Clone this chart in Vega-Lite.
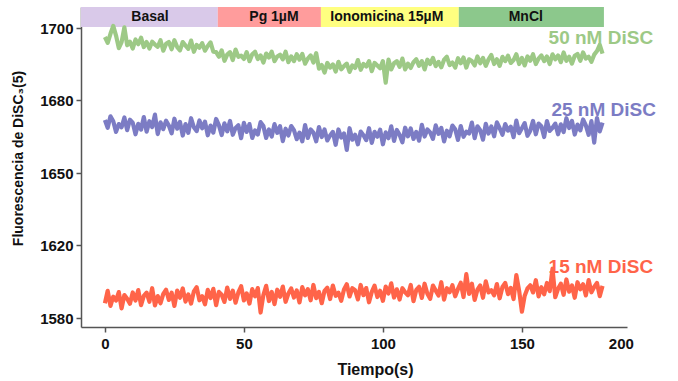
{
  "$schema": "https://vega.github.io/schema/vega-lite/v6.json",
  "width": 546,
  "height": 320,
  "autosize": {"type": "none"},
  "padding": {"left": 81, "top": 7, "right": 51, "bottom": 54},
  "background": "white",
  "config": {"view": {"stroke": null}, "font": "Liberation Sans"},
  "datasets": {
    "fases": [
      {"fase": "Basal", "inicio": -8.6, "fin": 40.6, "centro": 16.2},
      {"fase": "Pg 1µM", "inicio": 40.6, "fin": 77.7, "centro": 60.8},
      {"fase": "Ionomicina 15µM", "inicio": 77.7, "fin": 127.3, "centro": 101.4},
      {"fase": "MnCl", "inicio": 127.3, "fin": 179.5, "centro": 151.4}
    ],
    "etiquetas": [
      {"serie": "d50", "nombre": "50 nM DiSC", "t": 159.6, "v": 1697.2},
      {"serie": "d25", "nombre": "25 nM DiSC", "t": 160.6, "v": 1675.9},
      {"serie": "d15", "nombre": "15 nM DiSC", "t": 159.6, "v": 1607.9}
    ],
    "trazas": [
      {"t":0,"d50":1697.5,"d25":1671.8,"d15":1588.1},
      {"t":1,"d50":1695.9,"d25":1668.6,"d15":1594.9},
      {"t":2,"d50":1698.4,"d25":1673.3,"d15":1586.6},
      {"t":3,"d50":1700.6,"d25":1671.3,"d15":1591.7},
      {"t":4,"d50":1697.9,"d25":1666.9,"d15":1589.6},
      {"t":5,"d50":1694.4,"d25":1670.1,"d15":1594.2},
      {"t":6,"d50":1696.1,"d25":1668.8,"d15":1585.3},
      {"t":7,"d50":1700.2,"d25":1672.8,"d15":1592.6},
      {"t":8,"d50":1695.2,"d25":1667.6,"d15":1590.5},
      {"t":9,"d50":1696.2,"d25":1671.9,"d15":1587.8},
      {"t":10,"d50":1694.3,"d25":1670.7,"d15":1594.0},
      {"t":11,"d50":1696.8,"d25":1665.9,"d15":1589.6},
      {"t":12,"d50":1695.5,"d25":1670.2,"d15":1595.3},
      {"t":13,"d50":1697.3,"d25":1667.8,"d15":1587.0},
      {"t":14,"d50":1694.7,"d25":1673.0,"d15":1592.1},
      {"t":15,"d50":1696.1,"d25":1667.0,"d15":1593.9},
      {"t":16,"d50":1694.3,"d25":1671.3,"d15":1588.9},
      {"t":17,"d50":1696.2,"d25":1668.9,"d15":1596.3},
      {"t":18,"d50":1695.4,"d25":1674.0,"d15":1586.9},
      {"t":19,"d50":1694.8,"d25":1666.0,"d15":1592.0},
      {"t":20,"d50":1696.6,"d25":1670.8,"d15":1588.1},
      {"t":21,"d50":1693.7,"d25":1668.0,"d15":1593.2},
      {"t":22,"d50":1695.6,"d25":1671.5,"d15":1595.5},
      {"t":23,"d50":1696.1,"d25":1669.5,"d15":1589.9},
      {"t":24,"d50":1694.1,"d25":1666.3,"d15":1593.9},
      {"t":25,"d50":1696.6,"d25":1672.3,"d15":1586.6},
      {"t":26,"d50":1694.7,"d25":1668.2,"d15":1595.0},
      {"t":27,"d50":1693.8,"d25":1671.0,"d15":1591.1},
      {"t":28,"d50":1696.1,"d25":1665.4,"d15":1596.2},
      {"t":29,"d50":1695.1,"d25":1670.1,"d15":1589.0},
      {"t":30,"d50":1694.2,"d25":1666.5,"d15":1592.9},
      {"t":31,"d50":1696.5,"d25":1672.5,"d15":1587.9},
      {"t":32,"d50":1693.4,"d25":1668.8,"d15":1594.6},
      {"t":33,"d50":1695.3,"d25":1667.2,"d15":1596.9},
      {"t":34,"d50":1694.5,"d25":1671.6,"d15":1589.7},
      {"t":35,"d50":1695.8,"d25":1668.4,"d15":1591.9},
      {"t":36,"d50":1693.7,"d25":1671.1,"d15":1587.5},
      {"t":37,"d50":1695.0,"d25":1665.5,"d15":1595.4},
      {"t":38,"d50":1696.0,"d25":1669.5,"d15":1590.9},
      {"t":39,"d50":1693.4,"d25":1666.6,"d15":1596.0},
      {"t":40,"d50":1693.3,"d25":1672.2,"d15":1587.0},
      {"t":41,"d50":1692.0,"d25":1669.7,"d15":1594.3},
      {"t":42,"d50":1693.8,"d25":1665.6,"d15":1592.7},
      {"t":43,"d50":1690.9,"d25":1670.4,"d15":1588.8},
      {"t":44,"d50":1692.6,"d25":1667.1,"d15":1596.7},
      {"t":45,"d50":1693.3,"d25":1671.4,"d15":1590.5},
      {"t":46,"d50":1691.1,"d25":1665.7,"d15":1595.0},
      {"t":47,"d50":1694.0,"d25":1668.5,"d15":1588.4},
      {"t":48,"d50":1692.0,"d25":1669.6,"d15":1594.0},
      {"t":49,"d50":1692.3,"d25":1664.3,"d15":1597.4},
      {"t":50,"d50":1691.4,"d25":1670.6,"d15":1589.6},
      {"t":51,"d50":1693.3,"d25":1666.9,"d15":1593.5},
      {"t":52,"d50":1690.8,"d25":1670.1,"d15":1587.9},
      {"t":53,"d50":1692.7,"d25":1664.4,"d15":1595.8},
      {"t":54,"d50":1693.4,"d25":1667.5,"d15":1591.9},
      {"t":55,"d50":1691.4,"d25":1665.8,"d15":1596.4},
      {"t":56,"d50":1692.4,"d25":1670.9,"d15":1583.0},
      {"t":57,"d50":1690.4,"d25":1669.3,"d15":1592.6},
      {"t":58,"d50":1692.9,"d25":1664.4,"d15":1597.6},
      {"t":59,"d50":1691.8,"d25":1667.9,"d15":1589.3},
      {"t":60,"d50":1693.4,"d25":1665.0,"d15":1594.3},
      {"t":61,"d50":1690.8,"d25":1670.1,"d15":1587.6},
      {"t":62,"d50":1692.1,"d25":1666.5,"d15":1595.5},
      {"t":63,"d50":1692.6,"d25":1669.2,"d15":1591.6},
      {"t":64,"d50":1691.3,"d25":1663.1,"d15":1597.2},
      {"t":65,"d50":1693.4,"d25":1668.2,"d15":1588.9},
      {"t":66,"d50":1690.5,"d25":1665.4,"d15":1593.4},
      {"t":67,"d50":1692.1,"d25":1669.3,"d15":1596.2},
      {"t":68,"d50":1690.8,"d25":1667.6,"d15":1591.2},
      {"t":69,"d50":1692.7,"d25":1663.9,"d15":1595.1},
      {"t":70,"d50":1691.2,"d25":1666.6,"d15":1588.5},
      {"t":71,"d50":1692.8,"d25":1663.0,"d15":1596.9},
      {"t":72,"d50":1690.1,"d25":1669.7,"d15":1592.4},
      {"t":73,"d50":1691.5,"d25":1664.4,"d15":1595.8},
      {"t":74,"d50":1692.4,"d25":1667.9,"d15":1589.7},
      {"t":75,"d50":1690.4,"d25":1666.6,"d15":1598.1},
      {"t":76,"d50":1693.0,"d25":1663.0,"d15":1590.9},
      {"t":77,"d50":1688.7,"d25":1668.9,"d15":1594.3},
      {"t":78,"d50":1689.7,"d25":1664.8,"d15":1588.1},
      {"t":79,"d50":1687.6,"d25":1667.9,"d15":1594.9},
      {"t":80,"d50":1690.3,"d25":1663.4,"d15":1596.6},
      {"t":81,"d50":1689.0,"d25":1665.4,"d15":1590.4},
      {"t":82,"d50":1689.9,"d25":1666.9,"d15":1597.8},
      {"t":83,"d50":1687.9,"d25":1661.6,"d15":1592.2},
      {"t":84,"d50":1690.6,"d25":1667.9,"d15":1593.9},
      {"t":85,"d50":1688.5,"d25":1664.6,"d15":1589.4},
      {"t":86,"d50":1689.4,"d25":1666.2,"d15":1595.6},
      {"t":87,"d50":1690.1,"d25":1659.5,"d15":1598.5},
      {"t":88,"d50":1687.8,"d25":1668.4,"d15":1591.8},
      {"t":89,"d50":1689.6,"d25":1663.7,"d15":1596.3},
      {"t":90,"d50":1688.9,"d25":1665.7,"d15":1595.2},
      {"t":91,"d50":1691.1,"d25":1661.8,"d15":1590.2},
      {"t":92,"d50":1688.4,"d25":1667.0,"d15":1598.1},
      {"t":93,"d50":1690.0,"d25":1665.5,"d15":1592.5},
      {"t":94,"d50":1689.3,"d25":1663.5,"d15":1596.4},
      {"t":95,"d50":1690.8,"d25":1668.4,"d15":1588.6},
      {"t":96,"d50":1688.0,"d25":1662.4,"d15":1594.3},
      {"t":97,"d50":1690.3,"d25":1666.9,"d15":1597.7},
      {"t":98,"d50":1689.6,"d25":1664.9,"d15":1591.5},
      {"t":99,"d50":1688.8,"d25":1667.8,"d15":1594.9},
      {"t":100,"d50":1690.8,"d25":1661.8,"d15":1589.4},
      {"t":101,"d50":1684.8,"d25":1666.7,"d15":1597.2},
      {"t":102,"d50":1691.2,"d25":1664.3,"d15":1593.4},
      {"t":103,"d50":1688.5,"d25":1669.2,"d15":1599.0},
      {"t":104,"d50":1690.2,"d25":1663.2,"d15":1591.2},
      {"t":105,"d50":1690.8,"d25":1667.7,"d15":1595.7},
      {"t":106,"d50":1689.2,"d25":1665.7,"d15":1590.1},
      {"t":107,"d50":1691.5,"d25":1662.6,"d15":1596.3},
      {"t":108,"d50":1688.5,"d25":1668.6,"d15":1594.1},
      {"t":109,"d50":1690.1,"d25":1665.1,"d15":1592.5},
      {"t":110,"d50":1688.9,"d25":1668.3,"d15":1598.1},
      {"t":111,"d50":1690.5,"d25":1664.0,"d15":1589.2},
      {"t":112,"d50":1691.3,"d25":1666.9,"d15":1595.4},
      {"t":113,"d50":1689.5,"d25":1663.3,"d15":1597.1},
      {"t":114,"d50":1690.8,"d25":1669.8,"d15":1591.0},
      {"t":115,"d50":1688.5,"d25":1665.0,"d15":1598.8},
      {"t":116,"d50":1691.2,"d25":1667.9,"d15":1593.3},
      {"t":117,"d50":1690.0,"d25":1666.7,"d15":1590.5},
      {"t":118,"d50":1691.7,"d25":1664.0,"d15":1597.8},
      {"t":119,"d50":1689.4,"d25":1669.6,"d15":1595.0},
      {"t":120,"d50":1690.6,"d25":1666.1,"d15":1592.3},
      {"t":121,"d50":1689.1,"d25":1668.5,"d15":1599.6},
      {"t":122,"d50":1691.2,"d25":1663.0,"d15":1590.1},
      {"t":123,"d50":1692.0,"d25":1667.4,"d15":1596.3},
      {"t":124,"d50":1689.7,"d25":1665.1,"d15":1594.1},
      {"t":125,"d50":1690.4,"d25":1669.5,"d15":1598.0},
      {"t":126,"d50":1689.0,"d25":1668.0,"d15":1591.9},
      {"t":127,"d50":1691.6,"d25":1663.6,"d15":1595.9},
      {"t":128,"d50":1690.2,"d25":1669.3,"d15":1599.3},
      {"t":129,"d50":1691.8,"d25":1664.9,"d15":1591.5},
      {"t":130,"d50":1689.0,"d25":1667.0,"d15":1604.0},
      {"t":131,"d50":1691.3,"d25":1666.2,"d15":1593.2},
      {"t":132,"d50":1690.8,"d25":1670.7,"d15":1598.8},
      {"t":133,"d50":1689.6,"d25":1664.3,"d15":1589.9},
      {"t":134,"d50":1692.1,"d25":1669.2,"d15":1595.5},
      {"t":135,"d50":1690.2,"d25":1667.6,"d15":1597.8},
      {"t":136,"d50":1691.7,"d25":1663.7,"d15":1591.1},
      {"t":137,"d50":1689.5,"d25":1670.2,"d15":1600.1},
      {"t":138,"d50":1691.3,"d25":1666.2,"d15":1594.0},
      {"t":139,"d50":1692.5,"d25":1669.1,"d15":1595.2},
      {"t":140,"d50":1690.0,"d25":1665.1,"d15":1592.4},
      {"t":141,"d50":1691.3,"d25":1670.8,"d15":1598.6},
      {"t":142,"d50":1689.5,"d25":1668.4,"d15":1590.8},
      {"t":143,"d50":1692.0,"d25":1665.7,"d15":1597.0},
      {"t":144,"d50":1690.8,"d25":1670.1,"d15":1599.2},
      {"t":145,"d50":1692.3,"d25":1667.4,"d15":1593.1},
      {"t":146,"d50":1690.3,"d25":1669.0,"d15":1596.5},
      {"t":147,"d50":1691.1,"d25":1664.7,"d15":1590.4},
      {"t":148,"d50":1692.7,"d25":1671.5,"d15":1603.5},
      {"t":149,"d50":1690.0,"d25":1666.4,"d15":1594.9},
      {"t":150,"d50":1691.7,"d25":1668.4,"d15":1583.5},
      {"t":151,"d50":1689.6,"d25":1670.5,"d15":1592.2},
      {"t":152,"d50":1692.1,"d25":1665.3,"d15":1596.2},
      {"t":153,"d50":1690.9,"d25":1667.4,"d15":1597.9},
      {"t":154,"d50":1692.7,"d25":1671.4,"d15":1594.0},
      {"t":155,"d50":1690.0,"d25":1665.9,"d15":1600.7},
      {"t":156,"d50":1691.5,"d25":1670.3,"d15":1591.8},
      {"t":157,"d50":1692.4,"d25":1669.2,"d15":1596.9},
      {"t":158,"d50":1690.8,"d25":1664.8,"d15":1593.0},
      {"t":159,"d50":1692.1,"d25":1671.3,"d15":1599.2},
      {"t":160,"d50":1690.0,"d25":1667.3,"d15":1594.7},
      {"t":161,"d50":1692.7,"d25":1668.6,"d15":1607.0},
      {"t":162,"d50":1691.3,"d25":1670.3,"d15":1591.4},
      {"t":163,"d50":1692.4,"d25":1665.9,"d15":1596.0},
      {"t":164,"d50":1690.5,"d25":1670.0,"d15":1598.8},
      {"t":165,"d50":1693.2,"d25":1666.8,"d15":1592.7},
      {"t":166,"d50":1690.9,"d25":1672.5,"d15":1601.1},
      {"t":167,"d50":1692.0,"d25":1668.5,"d15":1594.4},
      {"t":168,"d50":1690.1,"d25":1671.4,"d15":1597.8},
      {"t":169,"d50":1692.3,"d25":1665.8,"d15":1591.1},
      {"t":170,"d50":1692.8,"d25":1669.9,"d15":1599.6},
      {"t":171,"d50":1690.9,"d25":1667.5,"d15":1595.7},
      {"t":172,"d50":1693.2,"d25":1672.0,"d15":1598.5},
      {"t":173,"d50":1691.5,"d25":1669.6,"d15":1592.4},
      {"t":174,"d50":1692.0,"d25":1665.7,"d15":1600.8},
      {"t":175,"d50":1690.6,"d25":1671.3,"d15":1594.1},
      {"t":176,"d50":1692.6,"d25":1662.5,"d15":1597.0},
      {"t":177,"d50":1693.6,"d25":1672.6,"d15":1599.2},
      {"t":178,"d50":1695.3,"d25":1667.1,"d15":1592.0},
      {"t":179,"d50":1692.9,"d25":1670.7,"d15":1597.6}
    ]
  },
  "layer": [
    {
      "data": {"name": "fases"},
      "mark": {"type": "rect"},
      "encoding": {
        "x": {"field": "inicio", "type": "quantitative", "title": "Tiempo(s)"},
        "x2": {"field": "fin"},
        "y": {"datum": 1700.3, "type": "quantitative", "title": "Fluorescencia de DiSC₃(5)"},
        "y2": {"datum": 1706},
        "fill": {
          "field": "fase", "type": "nominal", "legend": null,
          "scale": {"domain": ["Basal", "Pg 1µM", "Ionomicina 15µM", "MnCl"], "range": ["#d9c9e9", "#ff9c9c", "#ffff80", "#8cc88c"]}
        }
      }
    },
    {
      "data": {"name": "fases"},
      "mark": {"type": "text", "font": "Liberation Sans", "fontWeight": "bold", "fontSize": 14, "color": "#111111", "baseline": "middle", "align": "center"},
      "encoding": {
        "x": {"field": "centro", "type": "quantitative", "title": "Tiempo(s)"},
        "y": {"datum": 1703.1, "type": "quantitative", "title": "Fluorescencia de DiSC₃(5)"},
        "text": {"field": "fase"}
      }
    },
    {
      "data": {"name": "trazas"},
      "transform": [{"fold": ["d50", "d25", "d15"], "as": ["serie", "valor"]}],
      "mark": {"type": "line", "strokeWidth": 4.2, "strokeJoin": "round", "strokeCap": "butt", "interpolate": "linear"},
      "encoding": {
        "x": {
          "field": "t", "type": "quantitative", "title": "Tiempo(s)",
          "scale": {"domain": [-8.6, 187.8], "nice": false, "zero": false},
          "axis": {
            "values": [0, 50, 100, 150, 185.6],
            "labelExpr": "datum.value > 180 ? '200' : datum.label",
            "grid": false, "domainColor": "#555555", "domainWidth": 1.5,
            "tickColor": "#555555", "tickWidth": 1.5, "tickSize": 5,
            "tickOpacity": {"condition": {"test": "datum.value > 180", "value": 0}, "value": 1},
            "labelFont": "Liberation Sans", "labelFontWeight": "bold", "labelFontSize": 15, "labelColor": "#111111", "labelPadding": 4,
            "titleFont": "Liberation Sans", "titleFontWeight": "bold", "titleFontSize": 16, "titleColor": "#111111",
            "titleX": 294, "titleY": 42, "titleAlign": "center", "titleBaseline": "middle"
          }
        },
        "y": {
          "field": "valor", "type": "quantitative", "title": "Fluorescencia de DiSC₃(5)",
          "scale": {"domain": [1575, 1580, 1620, 1650, 1680, 1700, 1706], "range": [320, 311, 238, 166, 93, 21, 0], "nice": false, "zero": false},
          "axis": {
            "values": [1580, 1620, 1650, 1680, 1700],
            "format": "d",
            "grid": false, "domainColor": "#555555", "domainWidth": 1.5,
            "tickColor": "#555555", "tickWidth": 1.5, "tickSize": 5,
            "labelFont": "Liberation Sans", "labelFontWeight": "bold", "labelFontSize": 15, "labelColor": "#111111", "labelPadding": 3,
            "titleFont": "Liberation Sans", "titleFontWeight": "bold", "titleFontSize": 14, "titleColor": "#111111",
            "titleX": -63, "titleY": 151, "titleAlign": "center", "titleBaseline": "middle", "titleAngle": -90
          }
        },
        "color": {
          "field": "serie", "type": "nominal", "legend": null,
          "scale": {"domain": ["d50", "d25", "d15"], "range": ["#9dc986", "#7c7cc4", "#ff6449"]}
        },
        "detail": {"field": "serie"}
      }
    },
    {
      "data": {"name": "etiquetas"},
      "mark": {"type": "text", "font": "Liberation Sans", "fontWeight": "bold", "fontSize": 19, "align": "left", "baseline": "middle"},
      "encoding": {
        "x": {"field": "t", "type": "quantitative", "title": "Tiempo(s)"},
        "y": {"field": "v", "type": "quantitative", "title": "Fluorescencia de DiSC₃(5)"},
        "text": {"field": "nombre"},
        "color": {"field": "serie", "type": "nominal", "legend": null}
      }
    }
  ]
}
